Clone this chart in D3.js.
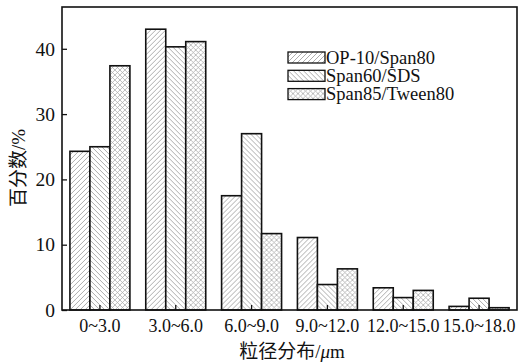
<!DOCTYPE html>
<html>
<head>
<meta charset="utf-8">
<script src="https://cdn.jsdelivr.net/npm/d3@7"></script>
<style>
  html, body { margin: 0; padding: 0; background: #fff; }
  svg { display: block; }
  svg text { font-family: "Liberation Serif", "DejaVu Serif", serif !important; fill: #111; }
  svg text.cjk { font-family: "Liberation Serif", "Noto Sans CJK SC", serif !important; }
</style>
</head>
<body>
<svg id="chart" width="526" height="363"></svg>
<script>
// Particle size distribution for three emulsifier systems
const categories = ["0~3.0", "3.0~6.0", "6.0~9.0", "9.0~12.0", "12.0~15.0", "15.0~18.0"];
const seriesNames = ["OP-10/Span80", "Span60/SDS", "Span85/Tween80"];
const op10Span80 = [24.3, 43.0, 17.5, 11.1, 3.4, 0.55];
const span60SDS = [25.0, 40.3, 27.0, 3.9, 1.9, 1.8];
const span85Tween80 = [37.4, 41.1, 11.7, 6.3, 3.0, 0.35];
const yTicks = [0, 10, 20, 30, 40];

const seriesValues = [op10Span80, span60SDS, span85Tween80];

const W = 526, H = 363;
const margin = { top: 7, right: 9, bottom: 53, left: 62 };

const svg = d3.select("#chart");

// Hatch fills
const defs = svg.append("defs");
function hatch(id, d, color, w) {
  const p = defs.append("pattern").attr("id", id)
    .attr("patternUnits", "userSpaceOnUse").attr("width", 5).attr("height", 5);
  p.append("rect").attr("width", 5).attr("height", 5).attr("fill", "#fff");
  p.append("path").attr("d", d).attr("stroke", color).attr("stroke-width", w);
}
const fwd = "M-1,1 l2,-2 M0,5 l5,-5 M4,6 l2,-2";
const back = "M-1,4 l2,2 M0,0 l5,5 M4,-1 l2,2";
hatch("hatch0", fwd, "#a4a4a4", 0.9);
hatch("hatch1", back, "#a4a4a4", 0.9);
hatch("hatch2", fwd + " " + back, "#a8a8a8", 0.75);

const x = d3.scaleBand()
  .domain(categories)
  .range([margin.left, W - margin.right])
  .paddingInner(0.209)
  .paddingOuter(0.1045);

const xInner = d3.scaleBand()
  .domain(d3.range(seriesNames.length))
  .range([0, x.bandwidth()]);

const y = d3.scaleLinear()
  .domain([0, 46.4])
  .range([H - margin.bottom, margin.top]);

// Bars
const groups = svg.append("g").selectAll("g")
  .data(categories)
  .join("g")
  .attr("transform", d => `translate(${x(d)},0)`);

groups.selectAll("rect")
  .data((d, i) => seriesValues.map((vals, s) => ({ s, v: vals[i] })))
  .join("rect")
  .attr("x", d => xInner(d.s))
  .attr("width", xInner.bandwidth())
  .attr("y", d => y(d.v))
  .attr("height", d => y(0) - y(d.v))
  .attr("fill", d => `url(#hatch${d.s})`)
  .attr("stroke", "#111")
  .attr("stroke-width", 1.6);

// Axes (ticks pointing into the plot)
const xAxis = svg.append("g")
  .attr("transform", `translate(0,${y(0)})`)
  .call(d3.axisBottom(x).tickSize(-5).tickPadding(9).tickSizeOuter(0));
xAxis.select(".domain").remove();
xAxis.selectAll("line").attr("stroke", "#111").attr("stroke-width", 1.3);
xAxis.selectAll("text").attr("font-size", 18);

const yAxis = svg.append("g")
  .attr("transform", `translate(${margin.left},0)`)
  .call(d3.axisLeft(y).tickValues(yTicks).tickSize(-5).tickPadding(7).tickSizeOuter(0));
yAxis.select(".domain").remove();
yAxis.selectAll("line").attr("stroke", "#111").attr("stroke-width", 1.3);
yAxis.selectAll("text").attr("font-size", 19.5);

// Frame
svg.append("rect")
  .attr("x", margin.left).attr("y", margin.top)
  .attr("width", W - margin.left - margin.right)
  .attr("height", H - margin.top - margin.bottom)
  .attr("fill", "none").attr("stroke", "#111").attr("stroke-width", 1.6);

// Legend
const legend = svg.append("g").attr("transform", "translate(288,52)");
seriesNames.forEach((name, i) => {
  const row = legend.append("g").attr("transform", `translate(0,${i * 18.3})`);
  row.append("rect")
    .attr("width", 37).attr("height", 11)
    .attr("fill", `url(#hatch${i})`)
    .attr("stroke", "#111").attr("stroke-width", 1.3);
  row.append("text")
    .attr("x", 38).attr("y", 11.5)
    .attr("font-size", 18.5)
    .text(name);
});

// Axis titles
svg.append("text")
  .attr("class", "cjk")
  .attr("transform", `translate(25,168) rotate(-90)`)
  .attr("text-anchor", "middle")
  .attr("font-size", 19)
  .text("百分数/%");

const xt = svg.append("text")
  .attr("class", "cjk")
  .attr("x", 292).attr("y", 358)
  .attr("text-anchor", "middle")
  .attr("font-size", 19);
xt.append("tspan").text("粒径分布/");
xt.append("tspan").attr("font-style", "italic").text("μ");
xt.append("tspan").text("m");
</script>
</body>
</html>
